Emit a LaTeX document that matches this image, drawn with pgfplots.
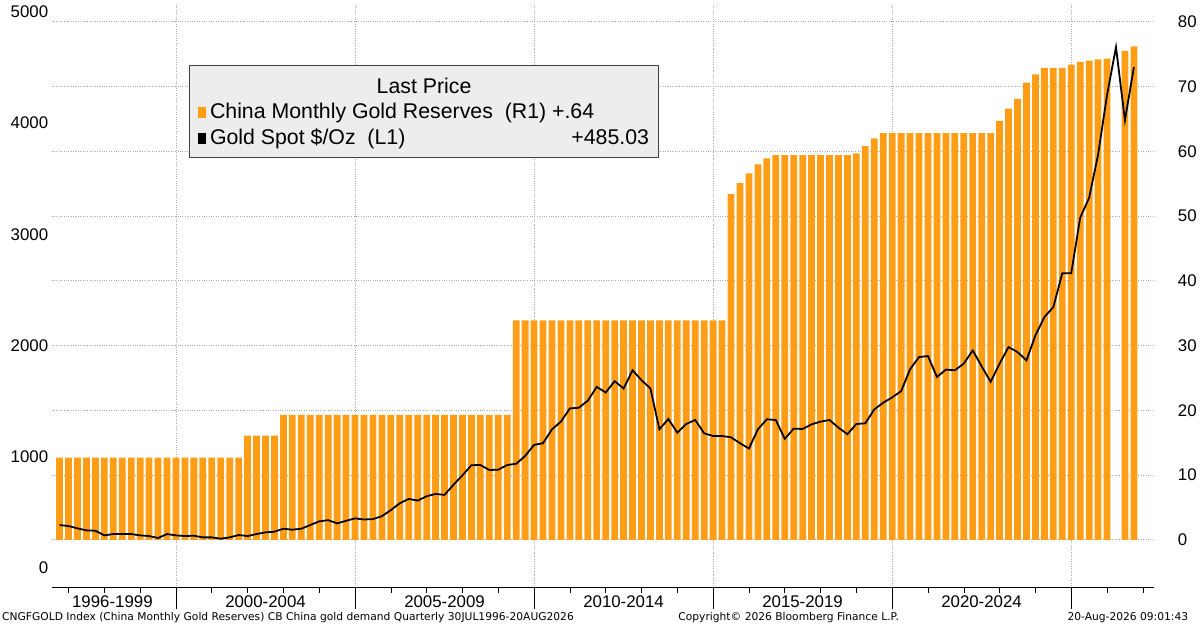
\documentclass[border=0pt]{standalone}
\usepackage{pgfplots}
\pgfplotsset{compat=1.18}
\usepackage{fontspec}
\setmainfont{Liberation Sans}
\newfontfamily\djv{DejaVu Sans}
\usetikzlibrary{calc}
\definecolor{barorange}{RGB}{255,158,22}
\definecolor{gridgray}{RGB}{170,170,170}
\newcommand{\lbl}{\fontsize{17}{17}\selectfont}
\newcommand{\lgf}{\fontsize{21.5}{21.5}\selectfont}
\newcommand{\ftf}{\djv\fontsize{10.8}{11}\selectfont}
\begin{document}
\begin{tikzpicture}
\pgfplotsset{common/.style={scale only axis, width=1108bp, height=586bp,
  xmin=-3.47, xmax=27.3, /pgf/number format/assume math mode=true,
  tick label style={font=\lbl}}}
% bars on right axis
\begin{axis}[common, name=ax,
  ymin=-7.4, ymax=82.6, axis y line*=right, axis x line*=bottom,
  y axis line style={draw=none}, x axis line style={black, line width=0.8pt},
  ytick={0,10,...,80}, yticklabel style={/pgf/number format/fixed},
  ymajorgrids, major grid style={gridgray, dotted, line width=0.8pt},
  major y tick style={draw=none},
  xtick={0,5,10,15,20,25}, xticklabels={}, xmajorgrids,
  major x tick style={black, line width=0.6pt}, major tick length=21bp,
  minor xtick={-3,...,27}, minor tick length=5bp, minor x tick style={black, line width=0.6pt},
  tick align=outside,
  ]
\addplot[ybar, bar width=6.8bp, fill=barorange, draw=none] table[x expr=\thisrow{x}-2000] {
x y
1996.75 12.7
1997.00 12.7
1997.25 12.7
1997.50 12.7
1997.75 12.7
1998.00 12.7
1998.25 12.7
1998.50 12.7
1998.75 12.7
1999.00 12.7
1999.25 12.7
1999.50 12.7
1999.75 12.7
2000.00 12.7
2000.25 12.7
2000.50 12.7
2000.75 12.7
2001.00 12.7
2001.25 12.7
2001.50 12.7
2001.75 12.7
2002.00 16.1
2002.25 16.1
2002.50 16.1
2002.75 16.1
2003.00 19.29
2003.25 19.29
2003.50 19.29
2003.75 19.29
2004.00 19.29
2004.25 19.29
2004.50 19.29
2004.75 19.29
2005.00 19.29
2005.25 19.29
2005.50 19.29
2005.75 19.29
2006.00 19.29
2006.25 19.29
2006.50 19.29
2006.75 19.29
2007.00 19.29
2007.25 19.29
2007.50 19.29
2007.75 19.29
2008.00 19.29
2008.25 19.29
2008.50 19.29
2008.75 19.29
2009.00 19.29
2009.25 19.29
2009.50 33.89
2009.75 33.89
2010.00 33.89
2010.25 33.89
2010.50 33.89
2010.75 33.89
2011.00 33.89
2011.25 33.89
2011.50 33.89
2011.75 33.89
2012.00 33.89
2012.25 33.89
2012.50 33.89
2012.75 33.89
2013.00 33.89
2013.25 33.89
2013.50 33.89
2013.75 33.89
2014.00 33.89
2014.25 33.89
2014.50 33.89
2014.75 33.89
2015.00 33.89
2015.25 33.89
2015.50 53.4
2015.75 55.1
2016.00 56.6
2016.25 58.0
2016.50 58.9
2016.75 59.4
2017.00 59.4
2017.25 59.4
2017.50 59.4
2017.75 59.4
2018.00 59.4
2018.25 59.4
2018.50 59.4
2018.75 59.4
2019.00 59.7
2019.25 60.8
2019.50 62.0
2019.75 62.8
2020.00 62.8
2020.25 62.8
2020.50 62.8
2020.75 62.8
2021.00 62.8
2021.25 62.8
2021.50 62.8
2021.75 62.8
2022.00 62.8
2022.25 62.8
2022.50 62.8
2022.75 62.8
2023.00 64.7
2023.25 66.6
2023.50 68.1
2023.75 70.6
2024.00 71.9
2024.25 72.9
2024.50 72.9
2024.75 72.9
2025.00 73.4
2025.25 73.8
2025.50 74.0
2025.75 74.2
2026.00 74.3
2026.50 75.5
2026.75 76.2
};
\end{axis}
% line on left axis
\begin{axis}[common,
  ymin=-179, ymax=5063, axis y line*=left, axis x line=none,
  y axis line style={draw=none}, major y tick style={draw=none},
  ytick={0,1000,...,5000}, yticklabel style={/pgf/number format/1000 sep={}},
  xtick=\empty]
\addplot[black, line width=1.8pt, mark=none] table[x expr=\thisrow{x}-2000] {
x y
1996.75 385
1997.00 376
1997.25 355
1997.50 337
1997.75 334
1998.00 292
1998.25 304
1998.50 304
1998.75 304
1999.00 292
1999.25 286
1999.50 268
1999.75 304
2000.00 292
2000.25 286
2000.50 289
2000.75 274
2001.00 274
2001.25 262
2001.50 274
2001.75 295
2002.00 286
2002.25 304
2002.50 319
2002.75 325
2003.00 352
2003.25 343
2003.50 352
2003.75 385
2004.00 418
2004.25 429
2004.50 400
2004.75 423
2005.00 445
2005.25 435
2005.50 438
2005.75 465
2006.00 519
2006.25 581
2006.50 620
2006.75 605
2007.00 644
2007.25 665
2007.50 656
2007.75 748
2008.00 832
2008.25 923
2008.50 925
2008.75 880
2009.00 883
2009.25 925
2009.50 936
2009.75 1006
2010.00 1106
2010.25 1121
2010.50 1246
2010.75 1315
2011.00 1434
2011.25 1440
2011.50 1503
2011.75 1628
2012.00 1577
2012.25 1679
2012.50 1613
2012.75 1777
2013.00 1688
2013.25 1613
2013.50 1246
2013.75 1339
2014.00 1216
2014.25 1294
2014.50 1330
2014.75 1210
2015.00 1186
2015.25 1186
2015.50 1174
2015.75 1121
2016.00 1073
2016.25 1246
2016.50 1336
2016.75 1330
2017.00 1160
2017.25 1252
2017.50 1249
2017.75 1291
2018.00 1315
2018.25 1330
2018.50 1261
2018.75 1202
2019.00 1294
2019.25 1300
2019.50 1425
2019.75 1485
2020.00 1533
2020.25 1589
2020.50 1786
2020.75 1896
2021.00 1905
2021.25 1717
2021.50 1783
2021.75 1777
2022.00 1837
2022.25 1956
2022.50 1812
2022.75 1673
2023.00 1837
2023.25 1986
2023.50 1941
2023.75 1866
2024.00 2091
2024.25 2255
2024.50 2345
2024.75 2649
2025.00 2649
2025.25 3149
2025.50 3328
2025.75 3716
2026.00 4252
2026.25 4684
2026.50 4026
2026.75 4503
};
\end{axis}
% group labels and legend, positioned relative to the axis box
\path (ax.south west) ++(0,-14bp) coordinate (lb);
\node[font=\lbl] at ($(lb)+(61bp,0)$) {1996-1999};
\node[font=\lbl] at ($(lb)+(215bp,0)$) {2000-2004};
\node[font=\lbl] at ($(lb)+(395bp,0)$) {2005-2009};
\node[font=\lbl] at ($(lb)+(575bp,0)$) {2010-2014};
\node[font=\lbl] at ($(lb)+(755bp,0)$) {2015-2019};
\node[font=\lbl] at ($(lb)+(935bp,0)$) {2020-2024};
\node[draw=black!75, fill=black!7, line width=0.8pt, minimum width=472bp, minimum height=93bp, anchor=north west, inner sep=0pt]
  (lg) at ($(ax.north west)+(138bp,-60bp)$) {};
\node[font=\lgf, anchor=base] at ($(lg.north)+(0,-29bp)$) {Last Price};
\fill[barorange] ($(lg.north west)+(9bp,-54bp)$) rectangle ++(8bp,11bp);
\node[font=\lgf, anchor=base west, inner sep=0pt] at ($(lg.north west)+(21bp,-54bp)$) {China Monthly Gold Reserves\ \ (R1) +.64};
\fill[black] ($(lg.north west)+(9bp,-80bp)$) rectangle ++(8bp,11bp);
\node[font=\lgf, anchor=base west, inner sep=0pt] at ($(lg.north west)+(21bp,-80bp)$) {Gold Spot \$/Oz\ \ (L1)};
\node[font=\lgf, anchor=base east, inner sep=0pt] at ($(lg.north east)+(-10bp,-80bp)$) {+485.03};
% footer
\node[font=\ftf, anchor=base west, inner sep=0pt] at ($(ax.south west)+(-50bp,-32.5bp)$) {CNGFGOLD Index (China Monthly Gold Reserves) CB China gold demand Quarterly 30JUL1996-20AUG2026};
\node[font=\ftf, anchor=base, inner sep=0pt] at ($(ax.south west)+(741bp,-32.5bp)$) {Copyright\textcopyright\ 2026 Bloomberg Finance L.P.};
\node[font=\ftf, anchor=base east, inner sep=0pt] at ($(ax.south east)+(35bp,-32.5bp)$) {20-Aug-2026 09:01:43};
\path[use as bounding box] ($(ax.south west)+(-52bp,-36bp)$) rectangle ($(ax.north east)+(40bp,5bp)$);
\end{tikzpicture}
\end{document}
